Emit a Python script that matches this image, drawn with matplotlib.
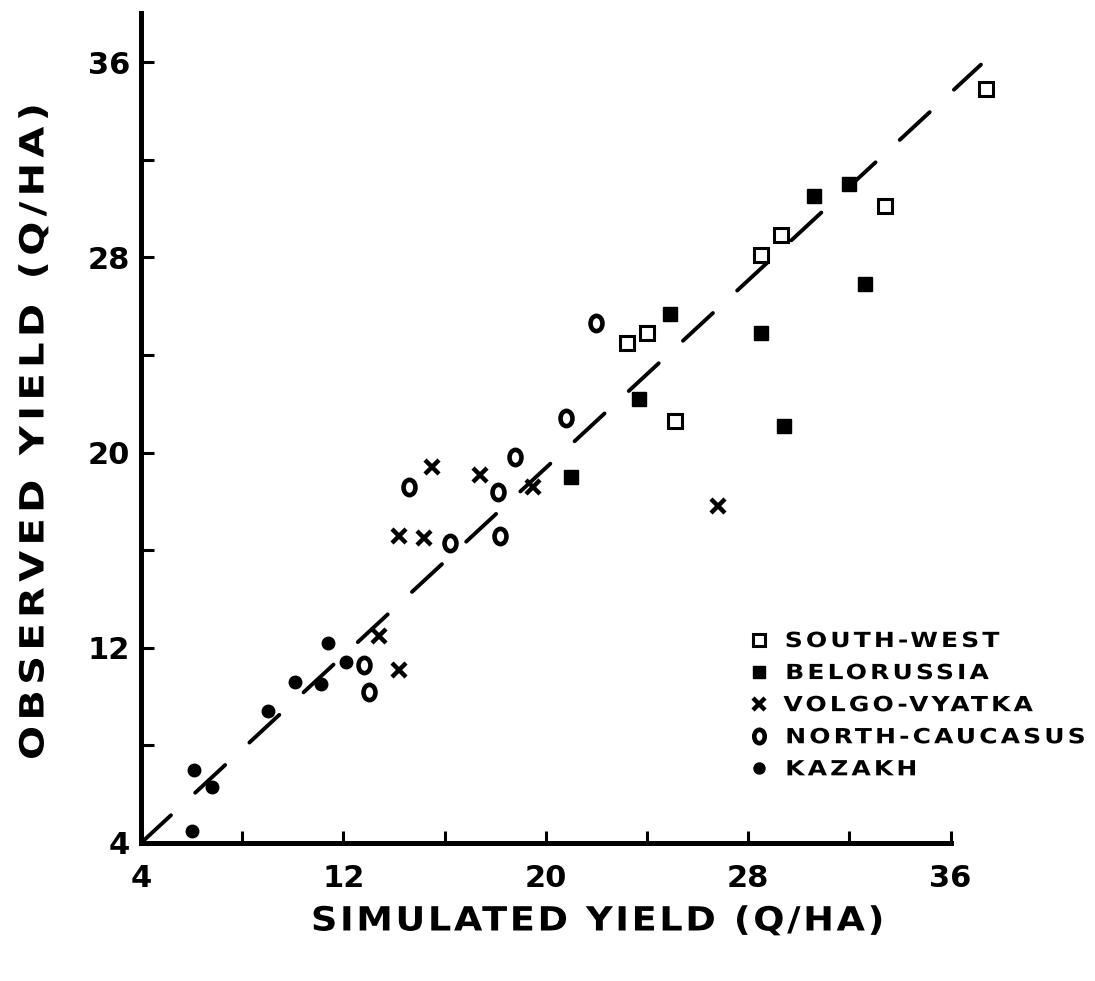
import matplotlib
matplotlib.use("Agg")
import numpy as np
import matplotlib.pyplot as plt
from matplotlib.path import Path
from matplotlib.transforms import Affine2D
from matplotlib import patheffects
from matplotlib.textpath import text_to_path

# ---- data (simulated, observed) in q/ha ----
sw_x = [37.4, 33.4, 29.3, 28.5, 24.0, 23.2, 25.1]
sw_y = [34.9, 30.1, 28.9, 28.1, 24.9, 24.5, 21.3]

bel_x = [32.0, 30.6, 32.6, 24.9, 28.5, 23.7, 29.4, 21.0]
bel_y = [31.0, 30.5, 26.9, 25.7, 24.9, 22.2, 21.1, 19.0]

vv_x = [26.8, 19.5, 17.4, 15.5, 14.2, 15.2, 13.4, 14.2]
vv_y = [17.8, 18.6, 19.1, 19.4, 16.6, 16.5, 12.5, 11.1]

nc_x = [22.0, 20.8, 18.8, 18.1, 14.6, 18.2, 16.2, 12.8, 13.0]
nc_y = [25.3, 21.4, 19.8, 18.4, 18.6, 16.6, 16.3, 11.3, 10.2]

kz_x = [11.4, 12.1, 11.1, 10.1, 9.0, 6.8, 6.1, 6.0]
kz_y = [12.2, 11.4, 10.5, 10.6, 9.4, 6.3, 7.0, 4.5]

line_x = [4.0, 37.2]
line_y = [4.0, 35.9]

major_ticks = [4, 12, 20, 28, 36]
minor_ticks = [8, 16, 24, 32]

labels = ["SOUTH-WEST", "BELORUSSIA", "VOLGO-VYATKA", "NORTH-CAUCASUS", "KAZAKH"]
xlabel = "SIMULATED YIELD (Q/HA)"
ylabel = "OBSERVED YIELD (Q/HA)"


class Tracking(patheffects.AbstractPathEffect):
    """Draw a text in an 'extended' style: wider glyphs plus letter spacing."""

    def __init__(self, text, track_em, stretch=1.0, align='left'):
        super().__init__()
        self.text = text
        self.track = track_em * text_to_path.FONT_SCALE
        self.stretch = stretch
        self.align = align

    def _build(self, tpath):
        s = self.text.get_text()
        prop = self.text.get_fontproperties()
        font = text_to_path._get_font(prop)
        info, gmap, _ = text_to_path.get_glyphs_with_font(font, s)
        verts, codes = [], []
        for i, (gid, xp, yp, sc) in enumerate(info):
            v, c = gmap[gid]
            v = np.asarray(v, dtype=float)
            if v.size == 0:
                continue
            v = v.reshape(-1, 2) * sc
            v[:, 0] = (v[:, 0] + xp) * self.stretch + i * self.track
            v[:, 1] = v[:, 1] + yp
            verts.append(v)
            codes.append(np.asarray(c))
        new = np.vstack(verts)
        old = tpath.get_extents()
        if self.align == 'center':
            shift = (old.x0 + old.x1) / 2.0 - (new[:, 0].min() + new[:, 0].max()) / 2.0
        else:
            shift = old.x0 - new[:, 0].min()
        new[:, 0] += shift
        return Path(new, np.concatenate(codes))

    def draw_path(self, renderer, gc, tpath, affine, rgbFace=None):
        try:
            p = self._build(tpath)
        except Exception:
            p = tpath
        renderer.draw_path(gc, p, affine, rgbFace)


plt.rcParams['font.family'] = ['DejaVu Sans']
plt.rcParams['font.weight'] = 'bold'

fig = plt.figure(figsize=(10.95, 9.81), dpi=100)
fig.patch.set_facecolor('white')

W, H = 1095.0, 981.0
x0_px, unit_x = 141.0, 25.3
y0_px, unit_y = 843.0, 24.4
xmin, xmax = 4.0, 38.5
ymin, ymax = 4.0, 38.0
ax = fig.add_axes([x0_px / W, 1 - y0_px / H,
                   (xmax - xmin) * unit_x / W, (ymax - ymin) * unit_y / H])
ax.set_xlim(xmin, xmax)
ax.set_ylim(ymin, ymax)

for s in ['top', 'right']:
    ax.spines[s].set_visible(False)
for s in ['left', 'bottom']:
    ax.spines[s].set_linewidth(3.6)
    ax.spines[s].set_capstyle('projecting')
ax.spines['bottom'].set_bounds(4, 36)
ax.spines['left'].set_bounds(4, 38)

ax.set_xticks(major_ticks)
ax.set_yticks(major_ticks)
ax.set_xticks(minor_ticks, minor=True)
ax.set_yticks(minor_ticks, minor=True)
ax.tick_params(which='both', direction='in', length=9, width=2.2, color='black')
ax.tick_params(axis='x', which='major', labelsize=22, pad=15)
ax.tick_params(axis='y', which='major', labelsize=22, pad=8)
for lab in ax.get_xticklabels() + ax.get_yticklabels():
    lab.set_fontweight('bold')

# 1:1 dashed line
ln, = ax.plot(line_x, line_y, color='black', lw=2.8, solid_capstyle='round',
              dash_capstyle='round')
ln.set_dashes([10.5, 8.5])

oval = Path.unit_circle().transformed(Affine2D().scale(0.78, 1.0))

h1, = ax.plot(sw_x, sw_y, ls='none', marker='s', ms=9.5, mew=2.2,
              mfc='white', mec='black', clip_on=False)
h2, = ax.plot(bel_x, bel_y, ls='none', marker='s', ms=10, mew=1,
              mfc='black', mec='black', clip_on=False)
h3, = ax.plot(vv_x, vv_y, ls='none', marker='x', ms=10, mew=3.2,
              color='black', clip_on=False)
h4, = ax.plot(nc_x, nc_y, ls='none', marker=oval, ms=11, mew=3.3,
              mfc='white', mec='black', clip_on=False)
h5, = ax.plot(kz_x, kz_y, ls='none', marker='o', ms=9,
              mfc='black', mec='black', clip_on=False)

leg = fig.legend([h1, h2, h3, h4, h5], labels,
                 loc='upper left', bbox_to_anchor=(751 / W, 1 - 631 / H),
                 frameon=False, handlelength=0.8,
                 handletextpad=0.75, labelspacing=0.58, borderpad=0,
                 borderaxespad=0, markerscale=0.88,
                 prop={'weight': 'bold', 'size': 15})
for t in leg.get_texts():
    t.set_path_effects([Tracking(t, 0.15, 1.2, 'left')])

tx = fig.text(597 / W, 1 - 921 / H, xlabel, ha='center', va='center',
              fontsize=24, fontweight='bold')
tx.set_path_effects([Tracking(tx, 0.08, 1.1, 'center')])
ty = fig.text(34 / W, 1 - 432 / H, ylabel, ha='center', va='center',
              rotation=90, fontsize=24, fontweight='bold')
ty.set_path_effects([Tracking(ty, 0.16, 1.2, 'center')])

fig.savefig("out.png", dpi=100, facecolor='white')
